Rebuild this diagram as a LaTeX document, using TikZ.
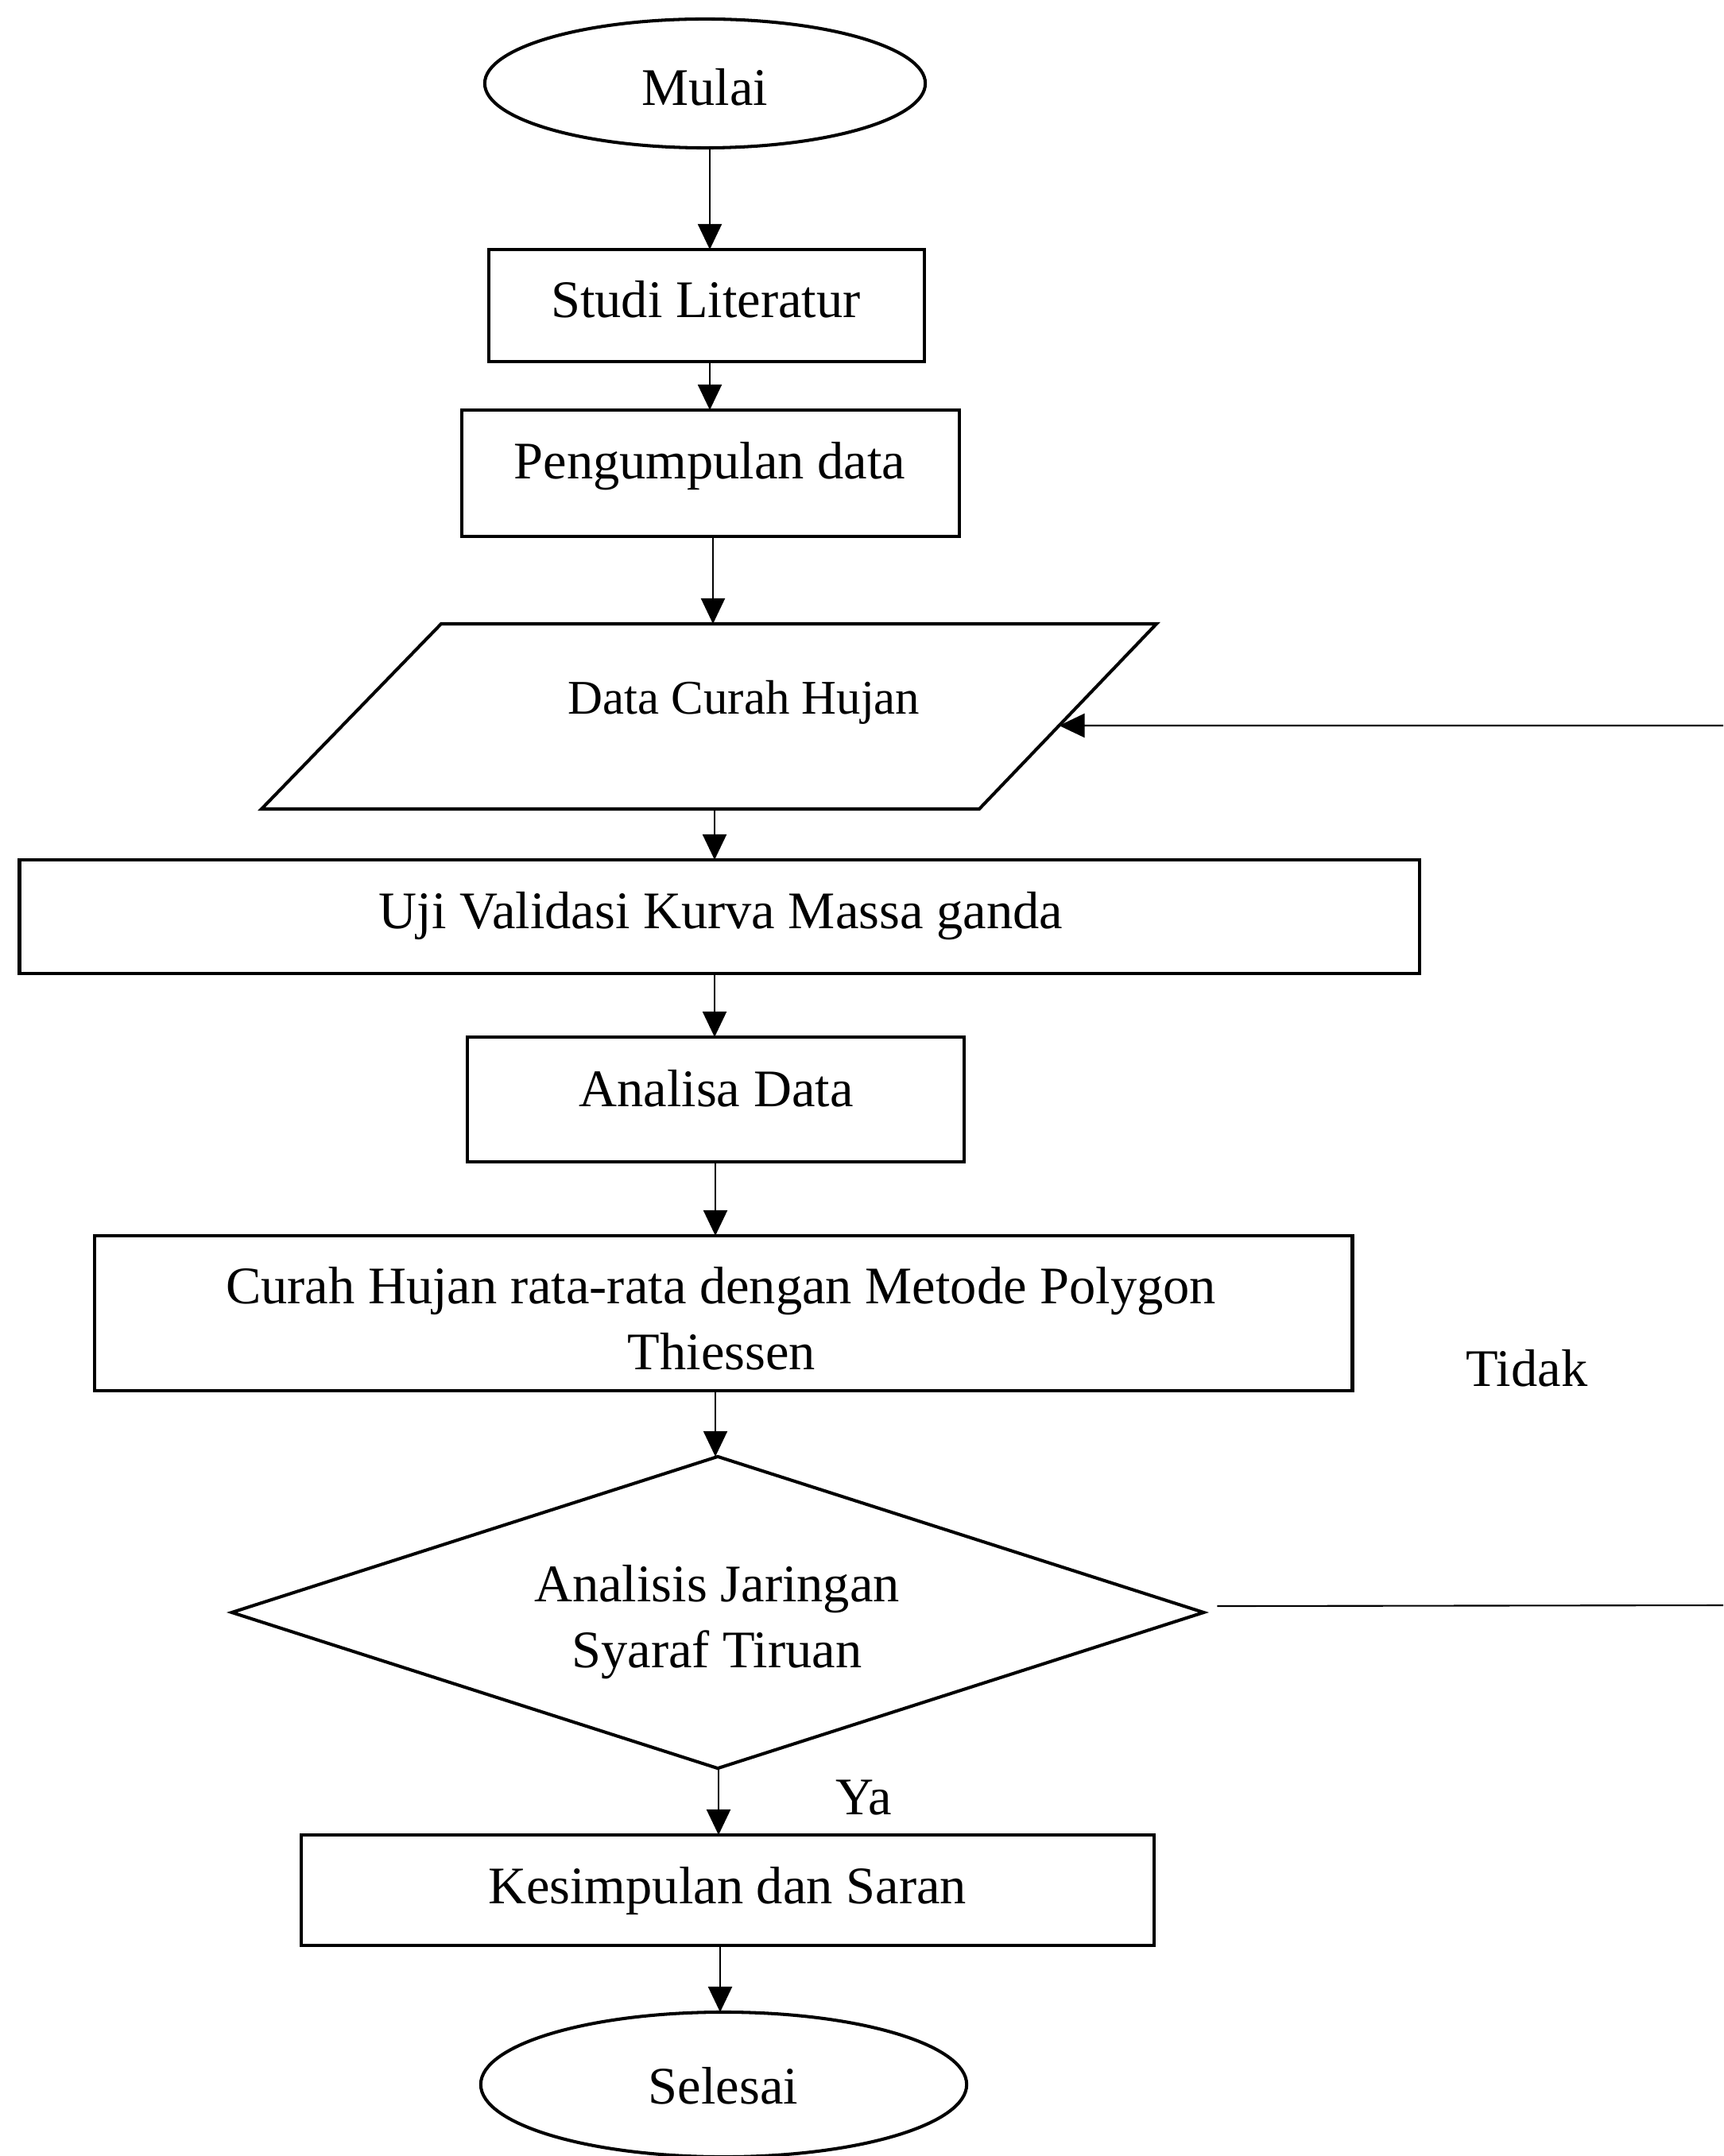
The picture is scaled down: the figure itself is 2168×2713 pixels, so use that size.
\documentclass[tikz,border=0pt]{standalone}
\usepackage{fontspec}
\setmainfont{Liberation Serif}
\usetikzlibrary{shapes.geometric,arrows.meta,calc}
\begin{document}
\begin{tikzpicture}[x=0.01cm,y=-0.01cm,
  shp/.style={draw, line width=1.15pt, inner sep=0pt, outer sep=0pt},
  box/.style={shp, rectangle},
  oval/.style={shp, ellipse},
  dia/.style={shp, diamond},
  txt/.style={anchor=base, inner sep=0pt, font=\fontsize{18.9}{22}\selectfont},
  smalltxt/.style={anchor=base, inner sep=0pt, font=\fontsize{17.3}{21}\selectfont},
  arr/.style={line width=0.6pt, -{Triangle[length=0.32cm,width=0.3cm]}},
  ln/.style={line width=0.6pt}]
\useasboundingbox (0,0) rectangle (2168,2713);
\fill[white] (0,0) rectangle (2168,2713);

% shapes
\node[oval, minimum width=5.54cm, minimum height=1.62cm] (mulai) at (887,105) {};
\node[box, minimum width=5.48cm, minimum height=1.41cm] (studi) at (889,384.5) {};
\node[box, minimum width=6.26cm, minimum height=1.59cm] (peng) at (894,595.5) {};
\coordinate (p1) at (555,785);
\coordinate (p2) at (1455,785);
\coordinate (p3) at (1232,1018);
\coordinate (p4) at (329,1018);
\draw[line width=1.15pt, line join=miter] (p1) -- (p2) -- (p3) -- (p4) -- cycle;
\node[box, minimum width=17.60cm, minimum height=1.43cm] (uji) at (905,1153.5) {};
\node[box, minimum width=6.25cm, minimum height=1.57cm] (analisa) at (900.5,1383.5) {};
\node[box, minimum width=15.82cm, minimum height=1.95cm] (curah) at (910,1652.5) {};
\node[dia, minimum width=12.22cm, minimum height=3.92cm] (diam) at (903,2029) {};
\node[box, minimum width=10.73cm, minimum height=1.39cm] (kes) at (915.5,2378.5) {};
\node[oval, minimum width=6.11cm, minimum height=1.82cm] (selesai) at (910.5,2623) {};

% texts
\node[txt] (tmulai) at (887,133) {Mulai};
\node[txt] (tstudi) at (888,400) {Studi Literatur};
\node[txt] (tpeng) at (893,603) {Pengumpulan data};
\node[smalltxt] (tdata) at (936,898) {Data Curah Hujan};
\node[txt] (tuji) at (907,1168) {Uji Validasi Kurva Massa ganda};
\node[txt] (tanalisa) at (901,1392) {Analisa Data};
\node[txt] (tcurah1) at (907,1640) {Curah Hujan rata-rata dengan Metode Polygon};
\node[txt] (tcurah2) at (908,1723) {Thiessen};
\node[txt] (tdia1) at (902,2015) {Analisis Jaringan};
\node[txt] (tdia2) at (902,2098) {Syaraf Tiruan};
\node[txt] (ttidak) at (1921,1744) {Tidak};
\node[txt] (tya) at (1087,2283) {Ya};
\node[txt] (tkes) at (915,2395) {Kesimpulan dan Saran};
\node[txt] (tselesai) at (910,2647) {Selesai};

% arrow x positions
\coordinate (a1) at (893,0);
\coordinate (a2) at (893,0);
\coordinate (a3) at (897,0);
\coordinate (a4) at (899,0);
\coordinate (a5) at (899,0);
\coordinate (a6) at (900,0);
\coordinate (a7) at (900,0);
\coordinate (a8) at (904,0);
\coordinate (a9) at (906,0);

\draw[arr] (mulai.south -| a1) -- (studi.north -| a1);
\draw[arr] (studi.south -| a2) -- (peng.north -| a2);
\draw[arr] (peng.south -| a3) -- (p1 -| a3);
\draw[arr] (p4 -| a4) -- (uji.north -| a4);
\draw[arr] (uji.south -| a5) -- (analisa.north -| a5);
\draw[arr] (analisa.south -| a6) -- (curah.north -| a6);
\draw[arr] (curah.south -| a7) -- (diam.north -| a7);
\draw[arr] (diam.south -| a8) -- (kes.north -| a8);
\draw[arr] (kes.south -| a9) -- (selesai.north -| a9);

% feedback (Tidak)
\coordinate (rb) at (2168,2020);
\coordinate (rt) at (2168,913);
\coordinate (pe) at ($(p2)!0.5494!(p3)$);
\draw[ln] ([shift={(17,-8)}]diam.east) -- (rb);
\draw[arr] (rt) -- (pe);
\end{tikzpicture}
\end{document}
